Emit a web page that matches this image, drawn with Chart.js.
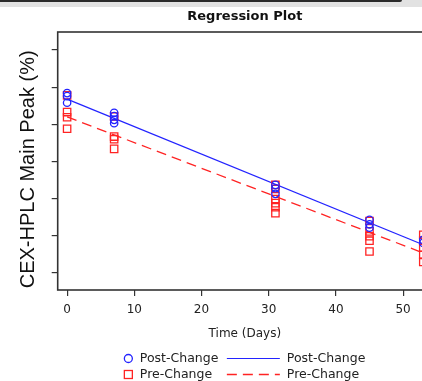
<!DOCTYPE html>
<html lang="en">

<head>
    <meta charset="UTF-8">
    <title>Regression Plot</title>
    <script src="https://cdn.jsdelivr.net/npm/chart.js"></script>
    <style>
        html, body {
            margin: 0;
            padding: 0;
            background: #fff;
            overflow: hidden;
        }

        .top-bar {
            position: absolute;
            top: 0;
            left: 0;
            width: 100%;
            height: 7px;
            background: #e2e2e2;
            z-index: 2;
        }

        .top-bar .edge {
            width: 402px;
            height: 2px;
            background: #2b2b2b;
            border-bottom-right-radius: 6px;
        }

        .chart-container {
            position: relative;
            width: 460px;
            height: 381px;
        }
    </style>
</head>

<body>
    <div class="top-bar"><div class="edge"></div></div>
    <div class="chart-container">
        <canvas id="regressionChart"></canvas>
    </div>

    <script>
        // Post-Change samples (blue circles)
        const postDays = [0, 0, 0, 7, 7, 7, 7, 31, 31, 31, 45, 45, 45, 53, 53];
        const postValues = [64.84, 64.76, 64.58, 64.31, 64.22, 64.12, 64.03, 62.37, 62.28, 62.13, 61.43, 61.31, 61.22, 60.89, 60.81];

        // Pre-Change samples (red squares)
        const preDays = [0, 0, 0, 0, 7, 7, 7, 7, 31, 31, 31, 31, 31, 31, 45, 45, 45, 45, 45, 53, 53, 53, 53, 53];
        const preValues = [64.78, 64.33, 64.19, 63.88, 64.21, 63.67, 63.60, 63.34, 62.37, 62.26, 61.99, 61.88, 61.77, 61.61, 61.40, 61.12, 60.99, 60.87, 60.58, 61.03, 60.87, 60.68, 60.49, 60.30];

        // Fitted lines (start and end of the study)
        const fitDays = [0, 53];
        const postFit = [64.68, 60.76];
        const preFit = [64.20, 60.54];

        // Axis ticks
        const xTicks = [0, 10, 20, 30, 40, 50];
        const yTicks = [60, 61, 62, 63, 64, 65, 66];

        const blue = "rgb(35, 35, 255)";
        const red = "rgb(255, 35, 35)";
        const axisColor = "#333";

        function toPoints(days, values) {
            return days.map((d, i) => ({ x: d, y: values[i] }));
        }

        // Box around the plot area
        const plotBox = {
            id: "plotBox",
            afterDraw(chart) {
                const { ctx, chartArea } = chart;
                ctx.save();
                ctx.strokeStyle = axisColor;
                ctx.lineWidth = 1.6;
                ctx.strokeRect(chartArea.left, chartArea.top, chartArea.right - chartArea.left, chartArea.bottom - chartArea.top);
                ctx.restore();
            }
        };

        // Two column legend under the x axis title
        const bottomLegend = {
            id: "bottomLegend",
            afterDraw(chart) {
                const { ctx, chartArea } = chart;
                const cx = (chartArea.left + chartArea.right) / 2;
                const row1 = chartArea.bottom + 68.5;
                const row2 = chartArea.bottom + 84.5;

                ctx.save();
                ctx.font = "12.5px 'DejaVu Sans'";
                ctx.fillStyle = "#222";
                ctx.textBaseline = "middle";
                ctx.lineWidth = 1.3;

                // row 1: Post-Change
                ctx.strokeStyle = blue;
                ctx.beginPath();
                ctx.arc(cx - 116.5, row1, 4, 0, Math.PI * 2);
                ctx.stroke();
                ctx.fillText("Post-Change", cx - 105, row1);
                ctx.lineWidth = 1;
                ctx.beginPath();
                ctx.moveTo(cx - 18, row1);
                ctx.lineTo(cx + 35, row1);
                ctx.stroke();
                ctx.fillText("Post-Change", cx + 42, row1);

                // row 2: Pre-Change
                ctx.lineWidth = 1.3;
                ctx.strokeStyle = red;
                ctx.strokeRect(cx - 120.5, row2 - 4, 8, 8);
                ctx.fillText("Pre-Change", cx - 105, row2);
                ctx.beginPath();
                ctx.setLineDash([10, 6]);
                ctx.moveTo(cx - 18, row2);
                ctx.lineTo(cx + 35, row2);
                ctx.stroke();
                ctx.setLineDash([]);
                ctx.fillText("Pre-Change", cx + 42, row2);
                ctx.restore();
            }
        };

        let ctx = document.getElementById("regressionChart").getContext("2d");
        let regressionChart = new Chart(ctx, {
            type: "scatter",
            data: {
                datasets: [
                    {
                        label: "Post-Change",
                        data: toPoints(postDays, postValues),
                        pointStyle: "circle",
                        pointRadius: 3.7,
                        borderWidth: 1.3,
                        borderColor: blue,
                        backgroundColor: "rgba(0,0,0,0)",
                    },
                    {
                        label: "Pre-Change",
                        data: toPoints(preDays, preValues),
                        pointStyle: "rect",
                        pointRadius: 5.2,
                        borderWidth: 1.3,
                        borderColor: red,
                        backgroundColor: "rgba(0,0,0,0)",
                    },
                    {
                        type: "line",
                        label: "Post-Change fit",
                        data: toPoints(fitDays, postFit),
                        borderColor: blue,
                        borderWidth: 1.3,
                        pointRadius: 0,
                        fill: false,
                    },
                    {
                        type: "line",
                        label: "Pre-Change fit",
                        data: toPoints(fitDays, preFit),
                        borderColor: red,
                        borderWidth: 1.3,
                        borderDash: [10, 6],
                        pointRadius: 0,
                        fill: false,
                    },
                ],
            },
            options: {
                responsive: true,
                maintainAspectRatio: false,
                animation: false,
                layout: {
                    padding: { left: 0, right: 28, top: 0, bottom: 36 },
                },
                plugins: {
                    legend: { display: false },
                    tooltip: { enabled: false },
                    title: {
                        display: true,
                        text: "Regression Plot",
                        fullSize: false,
                        color: "#111",
                        font: { family: "'DejaVu Sans'", size: 13, weight: "bold" },
                        padding: { top: 8.8, bottom: 7.6 },
                    },
                },
                scales: {
                    x: {
                        type: "linear",
                        min: -1.4,
                        max: 54.3,
                        afterBuildTicks: (axis) => { axis.ticks = xTicks.map(v => ({ value: v })); },
                        afterFit: (axis) => { axis.height = 55; },
                        grid: { drawOnChartArea: false, drawTicks: true, tickLength: 6, color: axisColor, lineWidth: 1.2 },
                        border: { display: false },
                        ticks: {
                            padding: 7,
                            color: "#222",
                            font: { family: "'DejaVu Sans'", size: 12 },
                        },
                        title: {
                            display: true,
                            text: "Time (Days)",
                            color: "#222",
                            font: { family: "'DejaVu Sans'", size: 12 },
                            padding: { top: 0, bottom: 4 },
                        },
                    },
                    y: {
                        type: "linear",
                        min: 59.543,
                        max: 66.484,
                        afterBuildTicks: (axis) => { axis.ticks = yTicks.map(v => ({ value: v })); },
                        afterFit: (axis) => { axis.width = 57.7; },
                        grid: { drawOnChartArea: false, drawTicks: true, tickLength: 6, color: axisColor, lineWidth: 1.2 },
                        border: { display: false },
                        ticks: { display: false },
                        title: {
                            display: true,
                            text: "CEX-HPLC Main Peak (%)   ",
                            color: "#111",
                            font: { family: "'Liberation Sans'", size: 20 },
                            padding: { top: 16, bottom: 0 },
                        },
                    },
                },
            },
            plugins: [plotBox, bottomLegend],
        });
    </script>
</body>

</html>
